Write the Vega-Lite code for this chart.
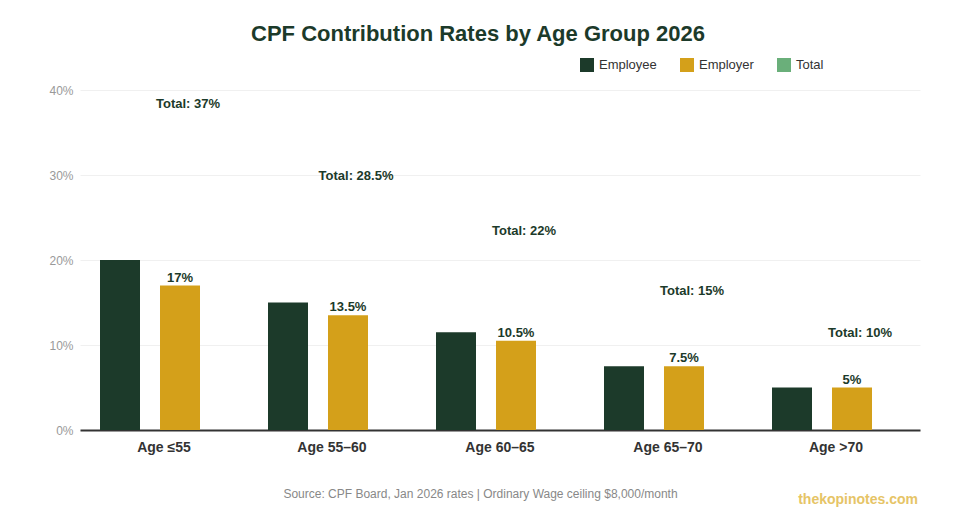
{
  "$schema": "https://vega.github.io/schema/vega-lite/v6.json",
  "width": 840,
  "height": 340,
  "autosize": "none",
  "padding": {"left": 80, "top": 90, "right": 40, "bottom": 90},
  "background": "white",
  "title": {
    "text": "CPF Contribution Rates by Age Group 2026",
    "font": "Liberation Sans",
    "fontSize": 22,
    "fontWeight": "bold",
    "color": "#1c3a2a",
    "anchor": "middle",
    "frame": "group",
    "dx": -22,
    "offset": 12
  },
  "config": {
    "font": "Liberation Sans",
    "view": {"stroke": null},
    "axis": {"labelFont": "Liberation Sans", "titleFont": "Liberation Sans"}
  },
  "data": {
    "values": [
      {"age": "Age ≤55", "series": "Employee", "value": 20},
      {"age": "Age ≤55", "series": "Employer", "value": 17},
      {"age": "Age ≤55", "series": "Total", "value": 37},
      {"age": "Age 55–60", "series": "Employee", "value": 15},
      {"age": "Age 55–60", "series": "Employer", "value": 13.5},
      {"age": "Age 55–60", "series": "Total", "value": 28.5},
      {"age": "Age 60–65", "series": "Employee", "value": 11.5},
      {"age": "Age 60–65", "series": "Employer", "value": 10.5},
      {"age": "Age 60–65", "series": "Total", "value": 22},
      {"age": "Age 65–70", "series": "Employee", "value": 7.5},
      {"age": "Age 65–70", "series": "Employer", "value": 7.5},
      {"age": "Age 65–70", "series": "Total", "value": 15},
      {"age": "Age >70", "series": "Employee", "value": 5},
      {"age": "Age >70", "series": "Employer", "value": 5},
      {"age": "Age >70", "series": "Total", "value": 10}
    ]
  },
  "encoding": {
    "x": {
      "field": "age",
      "type": "nominal",
      "sort": null,
      "scale": {"paddingInner": 0, "paddingOuter": 0},
      "title": "Source: CPF Board, Jan 2026 rates | Ordinary Wage ceiling $8,000/month",
      "axis": {
        "labelAngle": 0,
        "labelFontSize": 14,
        "labelFontWeight": "bold",
        "labelColor": "#333333",
        "labelPadding": 10,
        "ticks": false,
        "domainColor": "#333333",
        "domainWidth": 2,
        "titleFontSize": 12,
        "titleFontWeight": "normal",
        "titleColor": "#888888",
        "titleX": 400,
        "titleY": 67,
        "titleBaseline": "alphabetic"
      }
    },
    "y": {
      "field": "value",
      "type": "quantitative",
      "scale": {"domain": [0, 40]},
      "title": null,
      "axis": {
        "values": [0, 10, 20, 30, 40],
        "labelExpr": "datum.value + '%'",
        "labelFontSize": 12,
        "labelColor": "#999999",
        "labelPadding": 7,
        "ticks": false,
        "domain": false,
        "gridColor": "#f0f0f0",
        "gridWidth": 1
      }
    }
  },
  "layer": [
    {
      "transform": [{"filter": "datum.series != 'Total'"}],
      "mark": {"type": "bar"},
      "encoding": {
        "xOffset": {
          "field": "series",
          "type": "nominal",
          "scale": {"domain": ["Employee", "Employer"], "range": [20, 120], "paddingInner": 0.3333, "paddingOuter": 0}
        },
        "color": {
          "field": "series",
          "type": "nominal",
          "scale": {"domain": ["Employee", "Employer", "Total"], "range": ["#1c3a2a", "#d4a01a", "#6aaf7a"]},
          "legend": {
            "title": null,
            "orient": "none",
            "direction": "horizontal",
            "legendX": 500,
            "legendY": -32,
            "symbolType": "square",
            "symbolSize": 196,
            "symbolStrokeWidth": 0,
            "symbolOpacity": 1,
            "labelFontSize": 13,
            "labelColor": "#333333",
            "labelOffset": 5,
            "columnPadding": 23
          }
        }
      }
    },
    {
      "transform": [
        {"filter": "datum.series == 'Employer'"},
        {"calculate": "datum.value + '%'", "as": "label"}
      ],
      "mark": {"type": "text", "baseline": "alphabetic", "dy": -4, "fontSize": 13, "fontWeight": "bold", "color": "#1c3a2a"},
      "encoding": {
        "xOffset": {"field": "series", "type": "nominal"},
        "text": {"field": "label"}
      }
    },
    {
      "transform": [
        {"filter": "datum.series == 'Total'"},
        {"calculate": "'Total: ' + datum.value + '%'", "as": "label"}
      ],
      "mark": {"type": "text", "baseline": "alphabetic", "dy": -8, "dx": 8, "fontSize": 13, "fontWeight": "bold", "color": "#1c3a2a"},
      "encoding": {
        "xOffset": {"datum": "Employer"},
        "text": {"field": "label"}
      }
    },
    {
      "data": {"values": [{"site": "thekopinotes.com"}]},
      "mark": {"type": "text", "align": "right", "baseline": "middle", "dx": -2, "dy": 70, "fontSize": 14, "fontWeight": "bold", "color": "#e6c466"},
      "encoding": {
        "x": {"value": "width"},
        "y": {"value": "height"},
        "text": {"field": "site"}
      }
    }
  ]
}
